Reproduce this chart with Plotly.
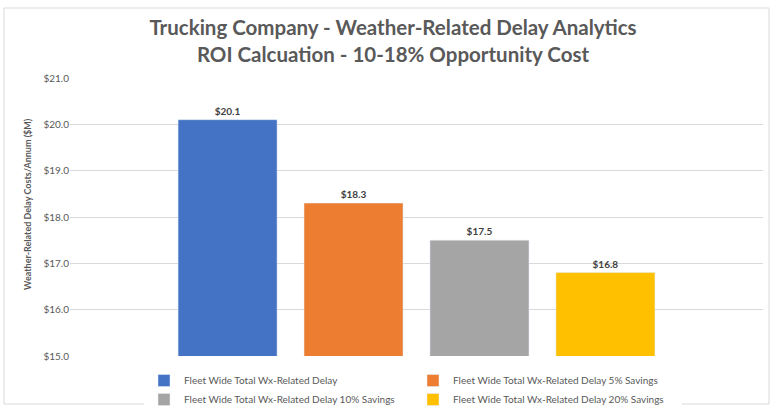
import plotly.graph_objects as go

series_names = [
    "Fleet Wide Total Wx-Related Delay",
    "Fleet Wide Total Wx-Related Delay 5% Savings",
    "Fleet Wide Total Wx-Related Delay 10% Savings",
    "Fleet Wide Total Wx-Related Delay 20% Savings",
]
series_values = [20.1, 18.3, 17.5, 16.8]
series_colors = ["#4472C4", "#ED7D31", "#A5A5A5", "#FFC000"]
category = [""]
y_title = "Weather-Related Delay Costs/Annum ($M)"

FONT = "Lato"
fig = go.Figure()
for name, val, col in zip(series_names, series_values, series_colors):
    fig.add_trace(go.Bar(
        x=category, y=[val], name=name, marker_color=col,
        texttemplate="<b>$%{y:.1f}</b>", textposition="outside",
        textfont=dict(size=10, color="#404040", family=FONT),
        cliponaxis=False,
    ))

W, H = 773, 409
L, R, T, B = 70, 10, 78, 53
pw, ph = W - L - R, H - T - B

fig.update_layout(
    width=W, height=H,
    margin=dict(l=L, r=R, t=T, b=B, autoexpand=False),
    paper_bgcolor="white", plot_bgcolor="white",
    barmode="group", bargap=0.273, bargroupgap=0.214,
    font=dict(family=FONT, color="#595959"),
    title=dict(
        text="<b>Trucking Company - Weather-Related Delay Analytics<br>ROI Calcuation - 10-18% Opportunity Cost</b>",
        x=393 / W, xanchor="center", y=1 - 35 / H, yanchor="middle",
        font=dict(size=20.5, color="#595959", family=FONT),
    ),
    showlegend=True,
    legend=dict(
        orientation="h", x=(144 - L) / pw, xanchor="left",
        y=-(366 - (H - B)) / ph, yanchor="top",
        entrywidth=224, entrywidthmode="pixels",
        font=dict(size=10, color="#595959", family=FONT),
        itemwidth=30, tracegroupgap=0,
    ),
    xaxis=dict(showticklabels=False, showgrid=False, zeroline=False, showline=False),
    yaxis=dict(
        range=[15, 21], dtick=1, tickprefix="$", tickformat=".1f",
        showgrid=True, gridcolor="#D9D9D9", gridwidth=1, zeroline=False,
        tickfont=dict(size=10, color="#595959", family=FONT),
        ticks="", ticklen=0,
    ),
    annotations=[dict(
        text="<b>" + y_title + "</b>", textangle=-90,
        xref="paper", yref="paper", x=(27 - L) / pw, y=1 - (204 - T) / ph,
        xanchor="center", yanchor="middle", showarrow=False,
        font=dict(size=9, color="#595959", family=FONT),
    )],
    shapes=[dict(
        type="rect", xref="paper", yref="paper",
        x0=(4 - L) / pw, x1=(769 - L) / pw,
        y0=-(404 - (H - B)) / ph, y1=1 + (T - 8) / ph,
        line=dict(color="#D9D9D9", width=1), fillcolor="rgba(0,0,0,0)", layer="below",
    )],
)

fig.write_html("out.html", config={"displayModeBar": False},
               post_script="document.body.style.margin='0';document.body.style.overflow='hidden';")
